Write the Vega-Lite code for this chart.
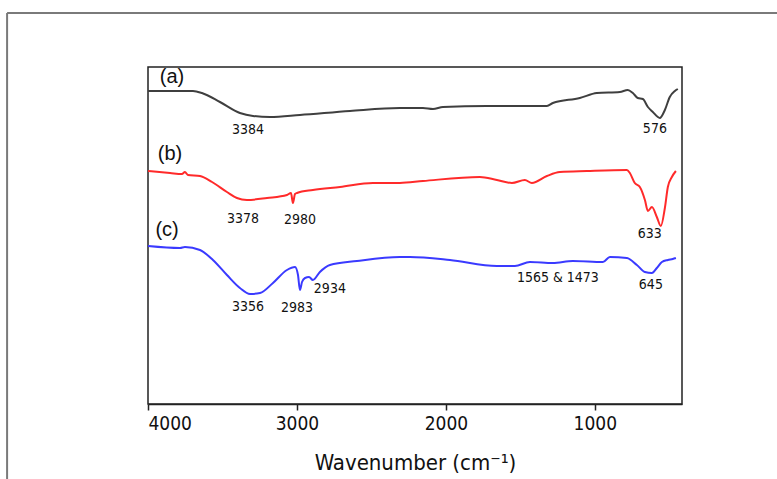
{
  "$schema": "https://vega.github.io/schema/vega-lite/v6.json",
  "autosize": "none",
  "width": 534,
  "height": 337,
  "padding": {"left": 148, "top": 67, "right": 95, "bottom": 75},
  "background": "white",
  "config": {
    "view": {"stroke": "#222", "strokeWidth": 1.5},
    "font": "DejaVu Sans Condensed, Liberation Sans, sans-serif"
  },
  "datasets": {
    "spectra": [
      {"sample": "a", "wavenumber": 4000, "intensity": 313},
      {"sample": "a", "wavenumber": 3852, "intensity": 313},
      {"sample": "a", "wavenumber": 3698, "intensity": 313},
      {"sample": "a", "wavenumber": 3638, "intensity": 311},
      {"sample": "a", "wavenumber": 3517, "intensity": 302},
      {"sample": "a", "wavenumber": 3383, "intensity": 291},
      {"sample": "a", "wavenumber": 3295, "intensity": 288},
      {"sample": "a", "wavenumber": 3181, "intensity": 287},
      {"sample": "a", "wavenumber": 2980, "intensity": 289},
      {"sample": "a", "wavenumber": 2644, "intensity": 293},
      {"sample": "a", "wavenumber": 2309, "intensity": 296},
      {"sample": "a", "wavenumber": 2154, "intensity": 296},
      {"sample": "a", "wavenumber": 2087, "intensity": 295},
      {"sample": "a", "wavenumber": 2020, "intensity": 297},
      {"sample": "a", "wavenumber": 1725, "intensity": 298},
      {"sample": "a", "wavenumber": 1322, "intensity": 298},
      {"sample": "a", "wavenumber": 1282, "intensity": 301},
      {"sample": "a", "wavenumber": 1101, "intensity": 306},
      {"sample": "a", "wavenumber": 987, "intensity": 311},
      {"sample": "a", "wavenumber": 832, "intensity": 312},
      {"sample": "a", "wavenumber": 779, "intensity": 314},
      {"sample": "a", "wavenumber": 745, "intensity": 311},
      {"sample": "a", "wavenumber": 712, "intensity": 306},
      {"sample": "a", "wavenumber": 678, "intensity": 305},
      {"sample": "a", "wavenumber": 644, "intensity": 297},
      {"sample": "a", "wavenumber": 611, "intensity": 292},
      {"sample": "a", "wavenumber": 564, "intensity": 286},
      {"sample": "a", "wavenumber": 530, "intensity": 294},
      {"sample": "a", "wavenumber": 497, "intensity": 307},
      {"sample": "a", "wavenumber": 463, "intensity": 313},
      {"sample": "a", "wavenumber": 443, "intensity": 315},
      {"sample": "b", "wavenumber": 4000, "intensity": 233},
      {"sample": "b", "wavenumber": 3852, "intensity": 231},
      {"sample": "b", "wavenumber": 3772, "intensity": 230},
      {"sample": "b", "wavenumber": 3752, "intensity": 232},
      {"sample": "b", "wavenumber": 3732, "intensity": 229},
      {"sample": "b", "wavenumber": 3651, "intensity": 228},
      {"sample": "b", "wavenumber": 3570, "intensity": 222},
      {"sample": "b", "wavenumber": 3470, "intensity": 212},
      {"sample": "b", "wavenumber": 3403, "intensity": 206},
      {"sample": "b", "wavenumber": 3336, "intensity": 204},
      {"sample": "b", "wavenumber": 3201, "intensity": 206},
      {"sample": "b", "wavenumber": 3067, "intensity": 209},
      {"sample": "b", "wavenumber": 3040, "intensity": 211},
      {"sample": "b", "wavenumber": 3027, "intensity": 201},
      {"sample": "b", "wavenumber": 3013, "intensity": 210},
      {"sample": "b", "wavenumber": 3000, "intensity": 211},
      {"sample": "b", "wavenumber": 2893, "intensity": 214},
      {"sample": "b", "wavenumber": 2711, "intensity": 217},
      {"sample": "b", "wavenumber": 2490, "intensity": 221},
      {"sample": "b", "wavenumber": 2309, "intensity": 221},
      {"sample": "b", "wavenumber": 2154, "intensity": 223},
      {"sample": "b", "wavenumber": 1772, "intensity": 227},
      {"sample": "b", "wavenumber": 1658, "intensity": 224},
      {"sample": "b", "wavenumber": 1557, "intensity": 221},
      {"sample": "b", "wavenumber": 1470, "intensity": 224},
      {"sample": "b", "wavenumber": 1423, "intensity": 221},
      {"sample": "b", "wavenumber": 1322, "intensity": 228},
      {"sample": "b", "wavenumber": 1235, "intensity": 232},
      {"sample": "b", "wavenumber": 1054, "intensity": 233},
      {"sample": "b", "wavenumber": 785, "intensity": 234},
      {"sample": "b", "wavenumber": 765, "intensity": 231},
      {"sample": "b", "wavenumber": 732, "intensity": 221},
      {"sample": "b", "wavenumber": 698, "intensity": 217},
      {"sample": "b", "wavenumber": 664, "intensity": 204},
      {"sample": "b", "wavenumber": 644, "intensity": 193},
      {"sample": "b", "wavenumber": 617, "intensity": 197},
      {"sample": "b", "wavenumber": 584, "intensity": 187},
      {"sample": "b", "wavenumber": 557, "intensity": 178},
      {"sample": "b", "wavenumber": 530, "intensity": 196},
      {"sample": "b", "wavenumber": 510, "intensity": 217},
      {"sample": "b", "wavenumber": 483, "intensity": 227},
      {"sample": "b", "wavenumber": 456, "intensity": 233},
      {"sample": "c", "wavenumber": 4000, "intensity": 158},
      {"sample": "c", "wavenumber": 3785, "intensity": 156},
      {"sample": "c", "wavenumber": 3752, "intensity": 157},
      {"sample": "c", "wavenumber": 3651, "intensity": 154},
      {"sample": "c", "wavenumber": 3564, "intensity": 144},
      {"sample": "c", "wavenumber": 3470, "intensity": 129},
      {"sample": "c", "wavenumber": 3383, "intensity": 116},
      {"sample": "c", "wavenumber": 3315, "intensity": 110},
      {"sample": "c", "wavenumber": 3248, "intensity": 111},
      {"sample": "c", "wavenumber": 3161, "intensity": 121},
      {"sample": "c", "wavenumber": 3067, "intensity": 134},
      {"sample": "c", "wavenumber": 3013, "intensity": 137},
      {"sample": "c", "wavenumber": 2993, "intensity": 129},
      {"sample": "c", "wavenumber": 2980, "intensity": 114},
      {"sample": "c", "wavenumber": 2966, "intensity": 122},
      {"sample": "c", "wavenumber": 2946, "intensity": 126},
      {"sample": "c", "wavenumber": 2919, "intensity": 127},
      {"sample": "c", "wavenumber": 2893, "intensity": 124},
      {"sample": "c", "wavenumber": 2846, "intensity": 132},
      {"sample": "c", "wavenumber": 2779, "intensity": 139},
      {"sample": "c", "wavenumber": 2597, "intensity": 143},
      {"sample": "c", "wavenumber": 2309, "intensity": 147},
      {"sample": "c", "wavenumber": 2242, "intensity": 147},
      {"sample": "c", "wavenumber": 1973, "intensity": 144},
      {"sample": "c", "wavenumber": 1658, "intensity": 138},
      {"sample": "c", "wavenumber": 1537, "intensity": 138},
      {"sample": "c", "wavenumber": 1436, "intensity": 142},
      {"sample": "c", "wavenumber": 1282, "intensity": 141},
      {"sample": "c", "wavenumber": 1148, "intensity": 143},
      {"sample": "c", "wavenumber": 946, "intensity": 142},
      {"sample": "c", "wavenumber": 899, "intensity": 147},
      {"sample": "c", "wavenumber": 785, "intensity": 146},
      {"sample": "c", "wavenumber": 718, "intensity": 139},
      {"sample": "c", "wavenumber": 664, "intensity": 132},
      {"sample": "c", "wavenumber": 617, "intensity": 131},
      {"sample": "c", "wavenumber": 584, "intensity": 136},
      {"sample": "c", "wavenumber": 550, "intensity": 142},
      {"sample": "c", "wavenumber": 510, "intensity": 144},
      {"sample": "c", "wavenumber": 477, "intensity": 145},
      {"sample": "c", "wavenumber": 456, "intensity": 146}
    ],
    "tags": [
      {"label": "(a)", "wavenumber": 3839, "intensity": 327},
      {"label": "(b)", "wavenumber": 3852, "intensity": 250},
      {"label": "(c)", "wavenumber": 3872, "intensity": 174}
    ],
    "peaks": [
      {"label": "3384", "wavenumber": 3329, "intensity": 274},
      {"label": "576", "wavenumber": 597, "intensity": 275},
      {"label": "3378", "wavenumber": 3362, "intensity": 185},
      {"label": "2980", "wavenumber": 2980, "intensity": 184},
      {"label": "633", "wavenumber": 631, "intensity": 170},
      {"label": "3356", "wavenumber": 3329, "intensity": 97},
      {"label": "2983", "wavenumber": 3000, "intensity": 96},
      {"label": "2934", "wavenumber": 2779, "intensity": 115},
      {"label": "1565 & 1473", "wavenumber": 1248, "intensity": 126},
      {"label": "645", "wavenumber": 624, "intensity": 119}
    ],
    "frame": [
      {"wavenumber": 4946, "wavenumberEnd": 4946, "intensity": 391, "intensityEnd": -90},
      {"wavenumber": 4946, "wavenumberEnd": -320, "intensity": 391, "intensityEnd": 391}
    ]
  },
  "encoding": {
    "x": {
      "field": "wavenumber", "type": "quantitative",
      "scale": {"domain": [4000, 415], "nice": false, "zero": false},
      "axis": {
        "values": [4000, 3000, 2000, 1000],
        "format": "d",
        "title": "Wavenumber (cm⁻¹)",
        "grid": false,
        "domainColor": "#222", "domainWidth": 1.5,
        "tickColor": "#222", "tickWidth": 1.5, "tickSize": 6,
        "labelFontSize": 19, "labelColor": "#111", "labelPadding": 4,
        "labelFont": "DejaVu Sans Condensed, Liberation Sans, sans-serif",
        "titleFont": "DejaVu Sans Condensed, Liberation Sans, sans-serif",
        "titleFontSize": 22, "titleFontWeight": "normal", "titleColor": "#111",
        "titlePadding": 19
      }
    },
    "y": {
      "field": "intensity", "type": "quantitative",
      "scale": {"domain": [0, 337], "nice": false, "zero": false},
      "axis": null
    }
  },
  "layer": [
    {
      "data": {"name": "frame"},
      "mark": {"type": "rule", "color": "#7a7a7a", "strokeWidth": 2},
      "encoding": {
        "x2": {"field": "wavenumberEnd"},
        "y2": {"field": "intensityEnd"}
      }
    },
    {
      "data": {"name": "spectra"},
      "mark": {"type": "line", "strokeWidth": 2, "interpolate": "monotone"},
      "encoding": {
        "color": {
          "field": "sample", "type": "nominal",
          "scale": {"domain": ["a", "b", "c"], "range": ["#3f3f3f", "#ff2a2a", "#3a3aff"]},
          "legend": null
        }
      }
    },
    {
      "data": {"name": "tags"},
      "mark": {"type": "text", "fontSize": 20, "font": "Liberation Sans, sans-serif", "color": "#111", "baseline": "middle", "align": "center"},
      "encoding": {
        "text": {"field": "label"}
      }
    },
    {
      "data": {"name": "peaks"},
      "mark": {"type": "text", "fontSize": 14, "font": "DejaVu Sans Condensed, Liberation Sans, sans-serif", "color": "#111", "baseline": "middle", "align": "center"},
      "encoding": {
        "text": {"field": "label"}
      }
    }
  ]
}
